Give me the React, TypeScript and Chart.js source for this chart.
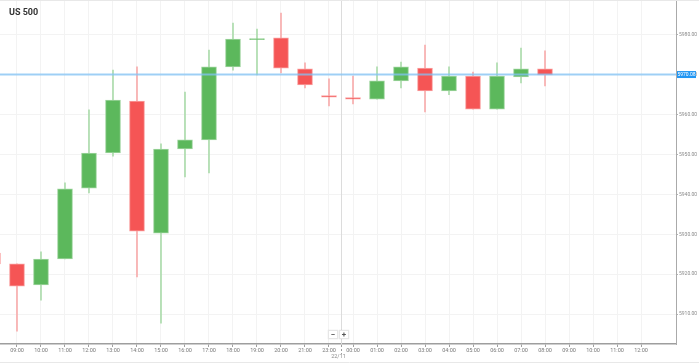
import React, { useEffect, useRef } from "react";
import { Chart, registerables } from "chart.js";

Chart.register(...registerables);

// Hour tick labels (22:00 is the market break, no candle)
const hourLabels = [
  "09:00", "10:00", "11:00", "12:00", "13:00", "14:00", "15:00", "16:00", "17:00",
  "18:00", "19:00", "20:00", "21:00", "23:00", "00:00", "01:00", "02:00", "03:00",
  "04:00", "05:00", "06:00", "07:00", "08:00", "09:00", "10:00", "11:00", "12:00",
];

// Slot index of each candle on the hour axis (-1 = previous 08:00 candle)
const candleSlot = [-1, 0, 1, 2, 3, 4, 5, 6, 7, 8, 9, 10, 11, 12, 13, 14, 15, 16, 17, 18, 19, 20, 21, 22];

const opens = [
  5925.3, 5922.6, 5917.3, 5923.8, 5941.6, 5950.4, 5963.4, 5930.3, 5951.4, 5953.7, 5972.0, 5978.8,
  5979.3, 5971.5, 5964.8, 5964.3, 5963.9, 5968.5, 5971.7, 5966.0, 5969.7, 5961.4, 5969.5, 5971.5,
];
const highs = [
  5926.0, 5922.6, 5925.6, 5942.9, 5961.2, 5971.2, 5972.0, 5952.7, 5965.7, 5976.2, 5983.0, 5981.5,
  5985.5, 5973.0, 5969.0, 5969.7, 5972.0, 5973.2, 5977.5, 5972.0, 5970.7, 5973.0, 5976.7, 5976.0,
];
const lows = [
  5921.8, 5905.7, 5913.5, 5923.8, 5940.4, 5949.6, 5919.3, 5907.7, 5944.4, 5945.4, 5971.2, 5970.0,
  5970.5, 5966.7, 5962.2, 5962.7, 5963.9, 5966.7, 5960.7, 5965.0, 5961.4, 5961.4, 5968.0, 5967.2,
];
const closes = [
  5922.6, 5917.0, 5923.8, 5941.4, 5950.4, 5963.7, 5930.8, 5951.4, 5953.7, 5972.0, 5979.0, 5979.1,
  5971.7, 5967.5, 5964.4, 5963.9, 5968.5, 5972.0, 5966.0, 5969.7, 5961.4, 5969.7, 5971.5, 5970.0,
];

const yTicks = [5910, 5920, 5930, 5940, 5950, 5960, 5970, 5980];
const currentPrice = 5970.08;
const dayLabel = "22/11";
const title = "US 500";

const GREEN = "#5cb85c";
const GREEN_EDGE = "#9fd59f";
const GREEN_WICK = "#acdcac";
const RED = "#f55555";
const RED_EDGE = "#f9a0a0";
const RED_WICK = "#f8acac";

export default function App() {
  const canvasRef = useRef<HTMLCanvasElement | null>(null);

  useEffect(() => {
    document.body.style.margin = "0";
    const canvas = canvasRef.current;
    if (!canvas) return;

    const isUp = opens.map((o, i) => closes[i] >= o);

    const overlay = {
      id: "overlay",
      beforeDatasetsDraw(chart: any) {
        const { ctx, chartArea, scales } = chart;
        const sx = Math.round(scales.x.getPixelForValue(13.5)) + 0.5;
        ctx.save();
        ctx.strokeStyle = "#dcdcdc";
        ctx.lineWidth = 1;
        ctx.beginPath();
        ctx.moveTo(sx, chartArea.top);
        ctx.lineTo(sx, chartArea.bottom);
        ctx.stroke();
        ctx.restore();
      },
      afterDatasetsDraw(chart: any) {
        const { ctx, chartArea, scales } = chart;
        const py = scales.y.getPixelForValue(currentPrice);
        ctx.save();
        ctx.strokeStyle = "rgba(130,195,245,0.75)";
        ctx.lineWidth = 2;
        ctx.beginPath();
        ctx.moveTo(chartArea.left, py);
        ctx.lineTo(chartArea.right, py);
        ctx.stroke();
        ctx.restore();
      },
      afterDraw(chart: any) {
        const { ctx, chartArea, scales, width } = chart;
        const py = scales.y.getPixelForValue(currentPrice);
        const sx = Math.round(scales.x.getPixelForValue(13.5)) + 0.5;
        ctx.save();
        // price tag
        ctx.fillStyle = "#2196f3";
        ctx.fillRect(chartArea.right + 1, py - 3.5, 19, 7);
        ctx.fillStyle = "#ffffff";
        ctx.font = "5px Roboto";
        ctx.textAlign = "center";
        ctx.textBaseline = "middle";
        ctx.fillText(currentPrice.toFixed(2), chartArea.right + 10.5, py + 0.3);
        // day separator below axis
        ctx.strokeStyle = "#9e9e9e";
        ctx.lineWidth = 1;
        ctx.setLineDash([2, 2]);
        ctx.beginPath();
        ctx.moveTo(sx, chartArea.bottom + 1);
        ctx.lineTo(sx, chartArea.bottom + 10);
        ctx.stroke();
        ctx.setLineDash([]);
        ctx.fillStyle = "#8a8a8a";
        ctx.font = "5.5px Roboto";
        ctx.fillText(dayLabel, sx - 3, chartArea.bottom + 13);
        // frame lines
        ctx.strokeStyle = "#e8e8e8";
        ctx.beginPath();
        ctx.moveTo(0, 0.5);
        ctx.lineTo(width, 0.5);
        ctx.moveTo(0, 362.5);
        ctx.lineTo(width, 362.5);
        ctx.stroke();
        ctx.restore();
      },
    };

    const chart = new Chart(canvas, {
      type: "bar",
      data: {
        datasets: [
          {
            label: "body",
            data: candleSlot.map((x, i) => ({ x, y: [opens[i], closes[i]] })) as any,
            backgroundColor: isUp.map((u) => (u ? GREEN : RED)),
            borderColor: isUp.map((u) => (u ? GREEN_EDGE : RED_EDGE)),
            borderWidth: 1,
            borderSkipped: false,
            barThickness: 15,
            grouped: false,
          } as any,
          {
            label: "wick",
            data: candleSlot.map((x, i) => ({ x, y: [lows[i], highs[i]] })) as any,
            backgroundColor: isUp.map((u) => (u ? GREEN_WICK : RED_WICK)),
            borderWidth: 0,
            barThickness: 1,
            grouped: false,
          } as any,
        ],
      },
      options: {
        responsive: false,
        devicePixelRatio: 1,
        animation: false,
        layout: { padding: 0 },
        plugins: {
          legend: { display: false },
          tooltip: { enabled: false },
        },
        scales: {
          x: {
            type: "linear",
            position: "bottom",
            offset: false,
            min: -0.708,
            max: 27.458,
            afterBuildTicks: (s: any) => {
              s.ticks = hourLabels.map((_, i) => ({ value: i }));
            },
            afterFit: (s: any) => {
              s.height = 19;
              s.paddingLeft = 0;
              s.paddingRight = 0;
              s.paddingTop = 0;
              s.paddingBottom = 0;
            },
            ticks: {
              callback: (v: any) => hourLabels[v as number] ?? "",
              font: { size: 5.5, family: "Roboto" },
              color: "#7a7a7a",
              maxRotation: 0,
              autoSkip: false,
              padding: 0,
            },
            grid: { color: "#f3f3f3", tickLength: 3, tickColor: "#a0a0a0", lineWidth: 1, offset: false },
            border: { color: "#9e9e9e", width: 1.5 },
          },
          y: {
            type: "linear",
            position: "right",
            min: 5902.48,
            max: 5988.78,
            afterBuildTicks: (s: any) => {
              s.ticks = yTicks.map((v) => ({ value: v }));
            },
            afterFit: (s: any) => {
              s.width = 23;
              s.paddingLeft = 0;
              s.paddingRight = 0;
              s.paddingTop = 0;
              s.paddingBottom = 0;
            },
            ticks: {
              callback: (v: any) => Number(v).toFixed(2),
              font: { size: 5, family: "Roboto" },
              color: "#8a8a8a",
              padding: 1,
            },
            grid: { color: "#f3f3f3", tickLength: 2, tickColor: "#b0b0b0", lineWidth: 1 },
            border: { color: "#aaaaaa", width: 1 },
          },
        },
      },
      plugins: [overlay],
    });

    return () => chart.destroy();
  }, []);

  const btn: React.CSSProperties = {
    position: "absolute",
    top: 330,
    width: 8,
    height: 7,
    background: "#ffffff",
    border: "1px solid #e6e6e6",
    boxShadow: "0 0 1px rgba(0,0,0,0.15)",
    color: "#555",
    fontFamily: "Roboto, sans-serif",
    fontWeight: 700,
    fontSize: 8,
    lineHeight: "7px",
    textAlign: "center",
  };

  return (
    <div style={{ position: "relative", width: 699, height: 363, background: "#fff" }}>
      <canvas ref={canvasRef} width={699} height={363} style={{ display: "block" }} />
      <div
        style={{
          position: "absolute",
          left: 9,
          top: 7,
          fontFamily: "Roboto, sans-serif",
          fontWeight: 700,
          fontSize: 9,
          color: "#333",
          lineHeight: "10px",
        }}
      >
        {title}
      </div>
      <div style={{ ...btn, left: 328 }}>−</div>
      <div style={{ ...btn, left: 339 }}>+</div>
    </div>
  );
}
